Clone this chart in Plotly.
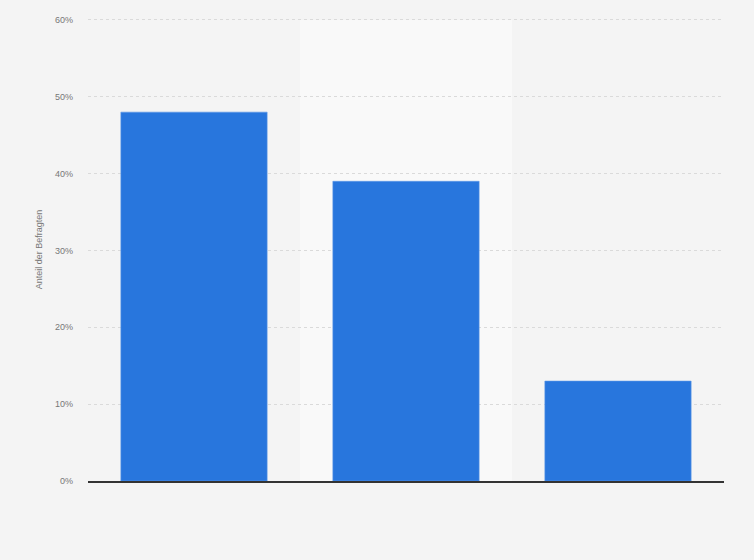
import plotly.graph_objects as go

categories = ["A", "B", "C"]
shares = [48, 39, 13]
y_ticks = [0, 10, 20, 30, 40, 50, 60]
y_tick_labels = [f"{t}%" for t in y_ticks]

fig = go.Figure()
fig.add_trace(go.Bar(
    x=categories,
    y=shares,
    marker=dict(color="#2876dd", line=dict(color="#5a97e8", width=0.6)),
    hoverinfo="y",
))

# lighter band behind the middle bar
fig.add_shape(type="rect", xref="x", yref="y", x0=0.5, x1=1.5, y0=0, y1=60,
              fillcolor="#f9f9f9", line=dict(width=0), layer="below")

fig.update_layout(
    width=754, height=560,
    paper_bgcolor="#f4f4f4",
    plot_bgcolor="#f4f4f4",
    margin=dict(l=88, r=30, t=18, b=79),
    bargap=0.31,
    showlegend=False,
    font=dict(family="Arial, Liberation Sans, sans-serif", color="#666666"),
)
fig.update_xaxes(
    showticklabels=False,
    showgrid=False,
    showline=True, linecolor="#333333", linewidth=1.5,
    ticks="",
)
fig.update_yaxes(
    range=[0, 60.25],
    tickvals=y_ticks,
    ticktext=y_tick_labels,
    tickfont=dict(size=9, color="#777777"),
    ticklabelstandoff=14,
    showgrid=True, gridcolor="#dadada", griddash="dot", gridwidth=1,
    zeroline=False,
    title=dict(text="Anteil der Befragten", font=dict(size=9, color="#777777"), standoff=10),
)

fig.write_html("out.html",
               config={"displayModeBar": False},
               post_script="document.body.style.margin='0';document.body.style.background='#f4f4f4';")
